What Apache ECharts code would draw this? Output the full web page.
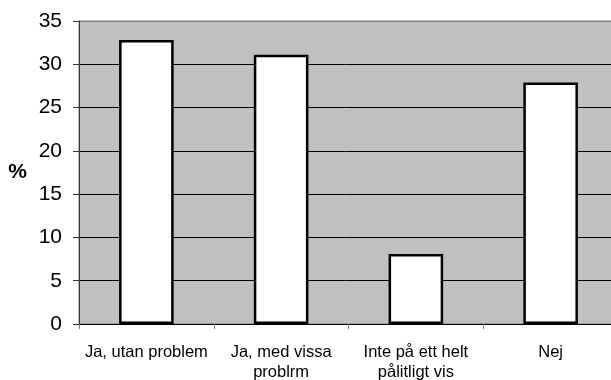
<!DOCTYPE html>
<html>
<head>
<meta charset="utf-8">
<script src="https://cdn.jsdelivr.net/npm/echarts@6/dist/echarts.min.js"></script>
<style>
  html, body { margin: 0; padding: 0; background: #fff; }
  #chart { width: 611px; height: 380px; }
</style>
</head>
<body>
<div id="chart"></div>
<script>
// Answer categories and share of respondents (%)
const categories = ['Ja, utan problem', 'Ja, med vissa\nproblrm', 'Inte på ett helt\npålitligt vis', 'Nej'];
const percentages = [32.8, 31.1, 8.1, 27.9];
const yTicks = { min: 0, max: 35, interval: 5 };

const chart = echarts.init(document.getElementById('chart'), null, { renderer: 'canvas' });

chart.setOption({
  animation: false,
  textStyle: { fontFamily: 'Arial, "Liberation Sans", sans-serif' },
  grid: {
    left: 79, top: 21, bottom: 56, width: 539,
    outerBoundsMode: 'none',
    show: true,
    backgroundColor: '#c0c0c0',
    borderColor: '#808080',
    borderWidth: 1
  },
  xAxis: {
    type: 'category',
    data: categories,
    axisLine: { lineStyle: { color: '#000', width: 1 } },
    axisTick: { show: true, interval: 0, length: 5, lineStyle: { color: '#808080' } },
    axisLabel: {
      interval: 0,
      color: '#000', fontSize: 16.5, lineHeight: 20, margin: 18,
      fontFamily: 'Arial, "Liberation Sans", sans-serif'
    }
  },
  yAxis: {
    type: 'value',
    min: yTicks.min, max: yTicks.max, interval: yTicks.interval,
    name: '%',
    nameLocation: 'middle',
    nameRotate: 0,
    nameGap: 52,
    nameTextStyle: { color: '#000', fontSize: 21, fontWeight: 'bold', fontFamily: 'Arial, "Liberation Sans", sans-serif' },
    axisLine: { show: true, lineStyle: { color: '#333', width: 1 } },
    axisTick: { show: true, length: 6, lineStyle: { color: '#333' } },
    axisLabel: { color: '#000', fontSize: 21, margin: 17, fontFamily: 'Arial, "Liberation Sans", sans-serif' },
    splitLine: {
      show: true,
      lineStyle: { color: ['#000', '#000', '#000', '#000', '#000', '#000', '#000', '#808080'], width: 1 }
    }
  },
  series: [{
    type: 'bar',
    data: percentages,
    barWidth: '40.5%',
    itemStyle: { color: '#fff', borderColor: '#000', borderWidth: 2.5 }
  }]
});
</script>
</body>
</html>
